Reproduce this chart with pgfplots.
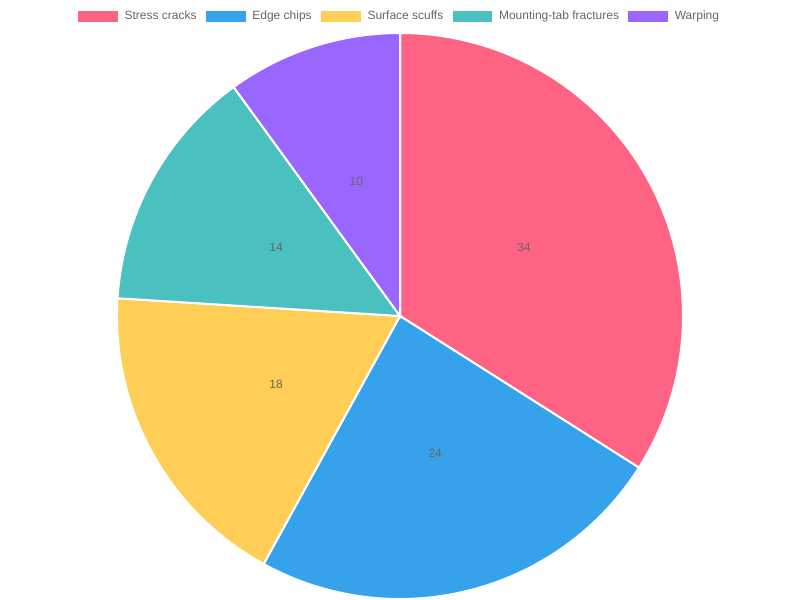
\documentclass[border=0pt]{standalone}
\usepackage{pgfplots}
\pgfplotsset{compat=1.18}
\usepackage{pgfplotstable}
\usepackage{fontspec}
\setmainfont{Liberation Sans}

\definecolor{cA}{HTML}{FF6384}
\definecolor{cB}{HTML}{36A2EB}
\definecolor{cC}{HTML}{FFCE56}
\definecolor{cD}{HTML}{4BC0C0}
\definecolor{cE}{HTML}{9966FF}
\definecolor{txt}{HTML}{666666}

% share of each defect type (percent)
\pgfplotstableread[col sep=comma]{
label,value,color
Stress cracks,34,cA
Edge chips,24,cB
Surface scuffs,18,cC
Mounting-tab fractures,14,cD
Warping,10,cE
}\piedata

\begin{document}
\begin{tikzpicture}
\begin{axis}[
  hide axis, scale only axis,
  width=600pt, height=450pt,
  xmin=0, xmax=800, ymin=0, ymax=600,
  clip=false,
  legend image code/.code={\fill[#1] (0pt,-3.75pt) rectangle (29pt,3.75pt);},
  legend cell align=left,
  legend style={at={(0.5,0.973)}, anchor=center, draw=none, fill=none,
    legend columns=-1, inner sep=0pt,
    font=\fontsize{9}{11}\selectfont, text=txt,
    /tikz/every odd column/.append style={column sep=3.4pt},
    /tikz/every even column/.append style={column sep=5pt}},
]
% corners of the 800x600 canvas
\coordinate (bl) at (axis cs:0,0);
\coordinate (tr) at (axis cs:800,600);
\pgfplotstablegetrowsof{\piedata}
\pgfmathtruncatemacro\lastrow{\pgfplotsretval-1}
\def\startangle{90}
\pgfplotsforeachungrouped \i in {0,...,\lastrow}{
  \pgfplotstablegetelem{\i}{value}\of\piedata \let\v\pgfplotsretval
  \pgfplotstablegetelem{\i}{color}\of\piedata \let\c\pgfplotsretval
  \pgfplotstablegetelem{\i}{label}\of\piedata \let\l\pgfplotsretval
  \pgfmathsetmacro\endangle{\startangle-3.6*\v}
  \pgfmathsetmacro\midangle{(\startangle+\endangle)/2}
  \edef\temp{%
    \noexpand\fill[\c, draw=white, line width=1.5pt] (axis cs:400,284) -- ++(\startangle:212.25pt)
      arc[start angle=\startangle, end angle=\endangle, radius=212.25pt] -- cycle;
    \noexpand\path (axis cs:400,284) ++(\midangle:106.1pt)
      node[text=txt, font=\noexpand\fontsize{9}{11}\noexpand\selectfont] {\v};
    \noexpand\addlegendimage{\c}
    \noexpand\addlegendentry{\l}
  }
  \temp
  \let\startangle\endangle
}
\end{axis}
\pgfresetboundingbox
\path (bl) rectangle (tr);
\end{tikzpicture}
\end{document}
